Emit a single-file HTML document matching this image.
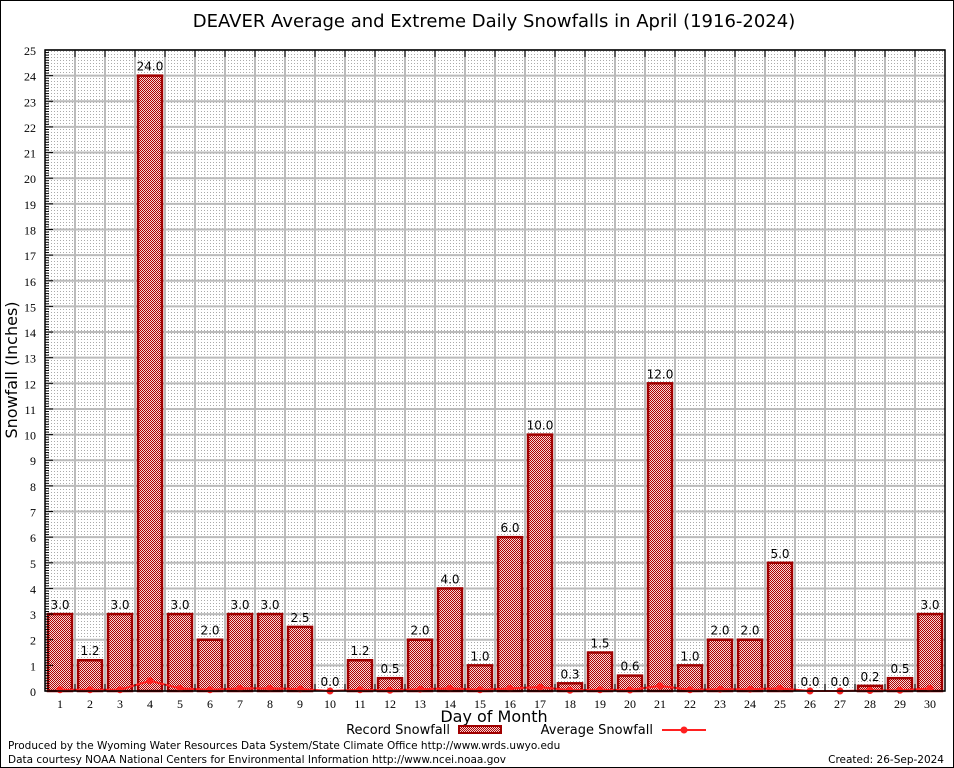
<!DOCTYPE html>
<html><head><meta charset="utf-8">
<style>
html,body{margin:0;padding:0;background:#fff;}
svg{display:block;font-family:"DejaVu Sans","Liberation Sans",sans-serif;}
</style></head>
<body>
<svg id="chart" width="954" height="768" viewBox="0 0 954 768" xmlns="http://www.w3.org/2000/svg">
<defs>
<pattern id="dots" width="3" height="3" patternUnits="userSpaceOnUse">
<rect x="0" y="0" width="1" height="1" fill="#aaa"/>
</pattern>
<pattern id="hatch" width="2" height="2" patternUnits="userSpaceOnUse">
<rect width="2" height="2" fill="#f4dada"/>
<rect x="0" y="0" width="1" height="1" fill="#b00000"/>
<rect x="1" y="1" width="1" height="1" fill="#b00000"/>
</pattern>
</defs>
<rect x="0.5" y="0.5" width="953" height="767" fill="#fff" stroke="#000"/>
<text x="494" y="27" font-size="18" text-anchor="middle">DEAVER Average and Extreme Daily Snowfalls in April (1916-2024)</text>
<rect x="45" y="50" width="900" height="641" fill="url(#dots)"/>
<g id="grid"></g>
<g id="bars"></g>
<g id="avg"></g>
<g id="axes"></g>
<text transform="translate(17,370) rotate(-90)" font-size="16" text-anchor="middle">Snowfall (Inches)</text>
<text x="494" y="722" font-size="16" text-anchor="middle">Day of Month</text>
<g>
<text x="450" y="734" font-size="13" text-anchor="end">Record Snowfall</text>
<rect x="459" y="726" width="42" height="7" fill="url(#hatch)" stroke="#a00000" stroke-width="2"/>
<text x="653" y="734" font-size="13" text-anchor="end">Average Snowfall</text>
<line x1="662" y1="730" x2="706" y2="730" stroke="#ff2020" stroke-width="2"/>
<circle cx="684" cy="730" r="3.5" fill="#ff2020"/>
</g>
<text x="8" y="749" font-size="10.5">Produced by the Wyoming Water Resources Data System/State Climate Office http://www.wrds.uwyo.edu</text>
<text x="8" y="763" font-size="10.5">Data courtesy NOAA National Centers for Environmental Information http://www.ncei.noaa.gov</text>
<text x="944" y="763" font-size="10.5" text-anchor="end">Created: 26-Sep-2024</text>
</svg>
<script>
const days = [1,2,3,4,5,6,7,8,9,10,11,12,13,14,15,16,17,18,19,20,21,22,23,24,25,26,27,28,29,30];
const recordSnow = [3.0,1.2,3.0,24.0,3.0,2.0,3.0,3.0,2.5,0.0,1.2,0.5,2.0,4.0,1.0,6.0,10.0,0.3,1.5,0.6,12.0,1.0,2.0,2.0,5.0,0.0,0.0,0.2,0.5,3.0];
const avgSnow = [0.05,0.05,0.05,0.4,0.1,0.05,0.1,0.1,0.08,0.0,0.05,0.03,0.07,0.1,0.05,0.1,0.15,0.03,0.05,0.04,0.2,0.05,0.07,0.07,0.1,0.0,0.0,0.02,0.03,0.1];
const yTicks = [0,1,2,3,4,5,6,7,8,9,10,11,12,13,14,15,16,17,18,19,20,21,22,23,24,25];

const NS='http://www.w3.org/2000/svg';
const L=45,R=945,T=50,B=691,YMAX=25;
const x=d=>L+(d-0.5)*(R-L)/30;
const y=v=>B-v*(B-T)/YMAX;
function mk(tag,attrs,parent){const e=document.createElementNS(NS,tag);for(const k in attrs)e.setAttribute(k,attrs[k]);parent.appendChild(e);return e;}
const grid=document.getElementById('grid'),bars=document.getElementById('bars'),avg=document.getElementById('avg'),axes=document.getElementById('axes');

yTicks.forEach(t=>{
 const g=mk('line',{x1:L,x2:R,y1:y(t),y2:y(t),stroke:'#bbb','stroke-width':2},grid);
 
 
 const lb=mk('text',{x:L-9,y:y(t)+5,'font-size':12,'text-anchor':'end','font-family':'Liberation Serif, serif'},axes);
 lb.textContent=t;
 
 
 const tk=mk('line',{x1:L,x2:L+8,y1:y(t),y2:y(t),stroke:'#000'},axes);
 
 
});
for(let i=0;i<YMAX*10;i++){
 if(i%10===0)continue;
 const mt=mk('line',{x1:L,x2:L+4,y1:y(i/10),y2:y(i/10),stroke:'#000','stroke-width':1},axes);
 
 
}
days.forEach((d,i)=>{
 const gx=L+(d)*(R-L)/30;
 if(d<30){
  const vl=mk('line',{x1:gx,x2:gx,y1:T,y2:B,stroke:'#bbb','stroke-width':2},grid);
  
  
  const tt=mk('line',{x1:gx,x2:gx,y1:T,y2:T+7,stroke:'#000'},axes);
  
  
  const tb=mk('line',{x1:gx,x2:gx,y1:B-7,y2:B,stroke:'#000'},axes);
  
  
 }
 const v=recordSnow[i];
 const bw=24,cx=x(d);
 const r=mk('rect',{x:cx-bw/2,y:y(v),width:bw,height:B-y(v),fill:'url(#hatch)',stroke:'#a00000','stroke-width':2.5},bars);
 
 
 const vt=mk('text',{x:cx,y:y(v)-5,'font-size':12,'text-anchor':'middle'},bars);
 vt.textContent=v.toFixed(1);
 
 
 const xl=mk('text',{x:cx,y:B+17,'font-size':12,'text-anchor':'middle','font-family':'Liberation Serif, serif'},axes);
 xl.textContent=d;
 
 
});
const pts=days.map((d,i)=>x(d)+','+y(avgSnow[i])).join(' ');
const pl=mk('polyline',{points:pts,fill:'none',stroke:'#ff2020','stroke-width':2},avg);


days.forEach((d,i)=>{
 const c=mk('circle',{cx:x(d),cy:y(avgSnow[i]),r:3.5,fill:'#ff2020'},avg);
 
 
});
const fr=mk('rect',{x:L,y:T,width:R-L,height:B-T,fill:'none',stroke:'#000','stroke-width':1.5},axes);


</script>
</body></html>
